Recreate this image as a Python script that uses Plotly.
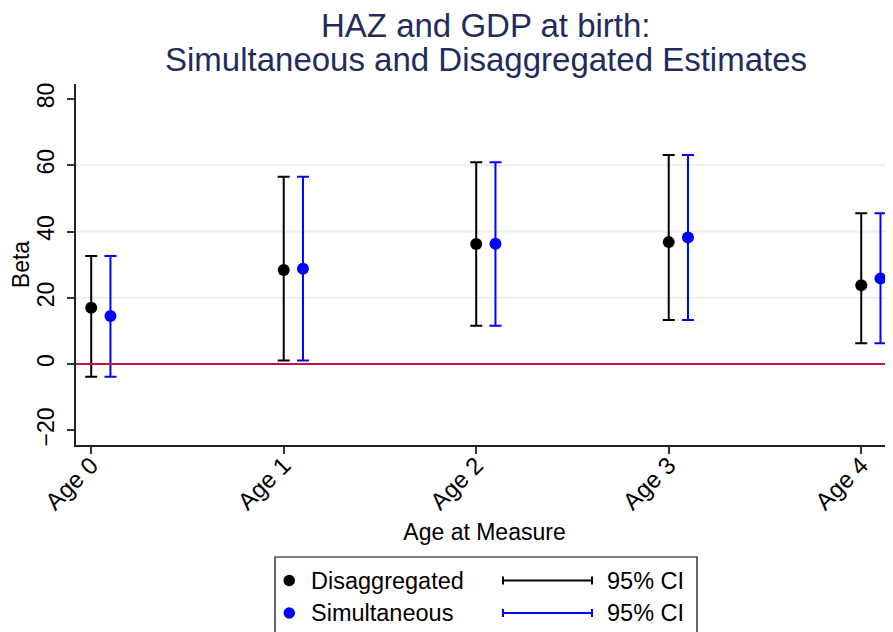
import plotly.graph_objects as go

# ---- data ----
ages = ["Age 0", "Age 1", "Age 2", "Age 3", "Age 4"]
disagg_beta = [17.0, 28.4, 36.2, 36.8, 23.8]
disagg_lo = [-3.8, 1.1, 11.6, 13.3, 6.3]
disagg_hi = [32.6, 56.5, 60.9, 63.1, 45.5]
simult_beta = [14.5, 28.8, 36.3, 38.2, 25.8]
simult_lo = [-3.8, 1.1, 11.6, 13.3, 6.3]
simult_hi = [32.6, 56.5, 60.9, 63.1, 45.5]
y_ticks = [-20, 0, 20, 40, 60, 80]
grid_vals = [20, 40, 60]

FONT = "Liberation Sans, Arial, Helvetica, sans-serif"
OFF = 8  # page body margin
W, H = 893 - OFF, 632 - OFF
ML, MR, MT = 76 - OFF, 0, 84 - OFF
MB = H - (445 - OFF)
PW = W - ML - MR
PH = H - MT - MB


def px_x(px):
    return (px - OFF - ML) / PW


def px_y(py):
    return (H - MB - (py - OFF)) / PH


x0 = list(range(len(ages)))
x1 = [v + 0.1 for v in x0]

fig = go.Figure()
fig.add_trace(go.Scatter(
    x=x0, y=disagg_beta, mode="markers", name="Disaggregated",
    marker=dict(color="black", size=12),
    error_y=dict(type="data", symmetric=False,
                 array=[h - b for h, b in zip(disagg_hi, disagg_beta)],
                 arrayminus=[b - l for b, l in zip(disagg_beta, disagg_lo)],
                 color="black", thickness=2, width=6),
    showlegend=False,
))
fig.add_trace(go.Scatter(
    x=x1, y=simult_beta, mode="markers", name="Simultaneous",
    marker=dict(color="#0000ff", size=12),
    error_y=dict(type="data", symmetric=False,
                 array=[h - b for h, b in zip(simult_hi, simult_beta)],
                 arrayminus=[b - l for b, l in zip(simult_beta, simult_lo)],
                 color="#0000ff", thickness=2, width=6),
    showlegend=False,
))

shapes = []
for g in grid_vals:
    shapes.append(dict(type="line", xref="paper", x0=0, x1=1, yref="y", y0=g, y1=g,
                       line=dict(color="#e8eff1", width=2), layer="below"))
shapes.append(dict(type="line", xref="paper", x0=0, x1=1, yref="y", y0=0, y1=0,
                   line=dict(color="#c8103c", width=2)))

# ---- manual legend (box, markers, CI symbols) ----
shapes.append(dict(type="rect", xref="paper", yref="paper",
                   x0=px_x(275), x1=px_x(697), y0=px_y(645), y1=px_y(557),
                   line=dict(color="black", width=1.2), fillcolor="white"))
rows = [("Disaggregated", "black", 580.5), ("Simultaneous", "#0000ff", 613)]
annotations = []
for label, col, ry in rows:
    shapes.append(dict(type="circle", xref="paper", yref="paper",
                       x0=px_x(283.5), x1=px_x(295), y0=px_y(ry + 5.7), y1=px_y(ry - 5.7),
                       fillcolor=col, line=dict(color=col, width=0)))
    shapes.append(dict(type="line", xref="paper", yref="paper",
                       x0=px_x(503), x1=px_x(592), y0=px_y(ry), y1=px_y(ry),
                       line=dict(color=col, width=2)))
    for cx in (503, 592):
        shapes.append(dict(type="line", xref="paper", yref="paper",
                           x0=px_x(cx), x1=px_x(cx), y0=px_y(ry - 4), y1=px_y(ry + 4),
                           line=dict(color=col, width=2)))
    annotations.append(dict(text=label, xref="paper", yref="paper",
                            x=px_x(309), y=px_y(ry), xanchor="left", yanchor="middle",
                            showarrow=False, font=dict(family=FONT, size=23.5, color="black")))
    annotations.append(dict(text="95% CI", xref="paper", yref="paper",
                            x=px_x(605), y=px_y(ry), xanchor="left", yanchor="middle",
                            showarrow=False, font=dict(family=FONT, size=23.5, color="black")))

# ---- title (two lines) ----
TITLE_COL = "#1f2d5c"
annotations.append(dict(text="HAZ and GDP at birth:", xref="paper", yref="paper",
                        x=px_x(486), y=px_y(26), xanchor="center", yanchor="middle",
                        showarrow=False, borderpad=0,
                        font=dict(family=FONT, size=33, color=TITLE_COL)))
annotations.append(dict(text="Simultaneous and Disaggregated Estimates", xref="paper", yref="paper",
                        x=px_x(486), y=px_y(59), xanchor="center", yanchor="middle",
                        showarrow=False, borderpad=0,
                        font=dict(family=FONT, size=33, color=TITLE_COL)))

fig.update_layout(
    width=W, height=H,
    margin=dict(l=ML, r=MR, t=MT, b=MB),
    paper_bgcolor="white", plot_bgcolor="white",
    font=dict(family=FONT, color="black"),
    shapes=shapes, annotations=annotations,
    xaxis=dict(range=[-0.079, 4.165], tickvals=x0, ticktext=ages, tickangle=-45,
               ticks="outside", ticklen=7, tickwidth=1.5, tickcolor="#333",
               showline=True, linecolor="#222", linewidth=1.5,
               showgrid=False, zeroline=False, ticklabelstandoff=-12,
               tickfont=dict(size=24, family=FONT),
               title=dict(text="Age at Measure", font=dict(size=23, family=FONT), standoff=10)),
    yaxis=dict(range=[-24.4, 84.5], tickvals=y_ticks,
               ticktext=[("\u2212" + str(abs(v))) if v < 0 else str(v) for v in y_ticks],
               tickangle=-90, ticks="outside", ticklen=7, tickwidth=1.5, tickcolor="#333",
               showline=True, linecolor="#222", linewidth=1.5,
               showgrid=False, zeroline=False, ticklabelstandoff=4,
               tickfont=dict(size=23, family=FONT),
               title=dict(text="Beta", font=dict(size=23, family=FONT), standoff=0)),
)

fig.write_html("out.html")
